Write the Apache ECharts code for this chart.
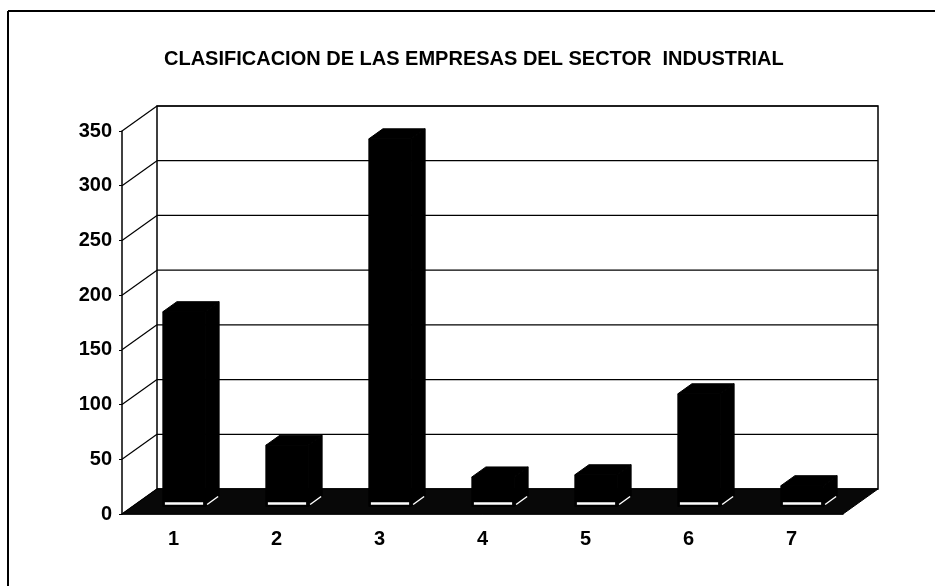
<!DOCTYPE html>
<html>
<head>
<meta charset="utf-8">
<title>Clasificacion de las empresas</title>
<script src="https://cdn.jsdelivr.net/npm/echarts@6/dist/echarts.min.js"></script>
<style>
  html, body { margin: 0; padding: 0; background: #fff; }
  #main { width: 935px; height: 586px; }
</style>
</head>
<body>
<div id="main"></div>
<script>
// datos
var categories = ['1', '2', '3', '4', '5', '6', '7']
var values = [178, 56, 336, 27, 29, 103, 19]
var yTicks = [0, 50, 100, 150, 200, 250, 300, 350]

// profundidad del efecto 3D (px)
var DX = 35
var DY = 25
var FONT = '"Liberation Sans", Arial, sans-serif'

var chart = echarts.init(document.getElementById('main'))

function wallItem (params, api) {
  var cs = params.coordSys
  var x0 = cs.x + DX
  var y0 = cs.y - DY
  return {
    type: 'rect',
    shape: { x: x0, y: y0, width: cs.width, height: cs.height },
    style: { fill: '#fff', stroke: '#000', lineWidth: 1.5 }
  }
}

function gridItem (params, api) {
  var cs = params.coordSys
  var py = api.coord([0, api.value(0)])[1]
  var x0 = cs.x
  return {
    type: 'group',
    children: [
      { type: 'line', shape: { x1: x0, y1: py, x2: x0 + DX, y2: py - DY }, style: { stroke: '#000', lineWidth: 1.2 } },
      { type: 'line', shape: { x1: x0 + DX, y1: py - DY, x2: x0 + DX + cs.width, y2: py - DY }, style: { stroke: '#000', lineWidth: 1.2 } }
    ]
  }
}

function floorItem (params, api) {
  var cs = params.coordSys
  var yb = cs.y + cs.height
  return {
    type: 'polygon',
    shape: { points: [[cs.x, yb], [cs.x + cs.width, yb], [cs.x + cs.width + DX, yb - DY], [cs.x + DX, yb - DY]] },
    style: { fill: '#080808', stroke: '#000', lineWidth: 1 }
  }
}

function barItem (params, api) {
  var i = api.value(0)
  var base = api.coord([i, 0])
  var top = api.coord([i, api.value(1)])
  var band = api.size([1, 0])[0]
  var w = band * 0.41
  var f0 = 0.3
  var f1 = 0.7
  var xl = base[0] + DX * f0 - w / 2
  var xr = xl + w
  var yb = base[1] - DY * f0
  var yt = top[1] - DY * f0
  var ox = DX * (f1 - f0)
  var oy = DY * (f1 - f0)
  var black = { fill: '#000', stroke: '#000', lineWidth: 1 }
  return {
    type: 'group',
    children: [
      { type: 'polygon', shape: { points: [[xl, yb], [xr, yb], [xr, yt], [xl, yt]] }, style: black },
      { type: 'polygon', shape: { points: [[xl, yt], [xr, yt], [xr + ox, yt - oy], [xl + ox, yt - oy]] }, style: black },
      { type: 'polygon', shape: { points: [[xr, yb], [xr + ox, yb - oy], [xr + ox, yt - oy], [xr, yt]] }, style: black },
      { type: 'line', shape: { x1: xl + 2, y1: yb - 3, x2: xr - 2, y2: yb - 3 }, style: { stroke: '#fff', lineWidth: 2.5 } },
      { type: 'line', shape: { x1: xr + 2, y1: yb - 2, x2: xr + ox - 1, y2: yb - oy }, style: { stroke: '#fff', lineWidth: 1.5 } }
    ]
  }
}

chart.setOption({
  animation: false,
  title: {
    text: 'CLASIFICACION DE LAS EMPRESAS DEL SECTOR  INDUSTRIAL',
    left: 159,
    top: 44,
    textStyle: { fontFamily: FONT, fontSize: 20, fontWeight: 'bold', color: '#000' }
  },
  graphic: [
    { type: 'line', shape: { x1: 8, y1: 11, x2: 935, y2: 11 }, style: { stroke: '#000', lineWidth: 2 } },
    { type: 'line', shape: { x1: 8, y1: 11, x2: 8, y2: 586 }, style: { stroke: '#000', lineWidth: 2 } }
  ],
  grid: { left: 122, right: 92, top: 131, bottom: 72 },
  xAxis: {
    type: 'category',
    data: categories,
    axisLine: { lineStyle: { color: '#000', width: 1.5 } },
    axisTick: { length: 3, lineStyle: { color: '#000' } },
    axisLabel: { margin: 15, color: '#000', fontFamily: FONT, fontSize: 20, fontWeight: 'bold' }
  },
  yAxis: {
    type: 'value',
    min: 0,
    max: 350,
    interval: 50,
    splitLine: { show: false },
    axisLine: { show: true, lineStyle: { color: '#000', width: 1.5 } },
    axisTick: { show: true, length: 3, lineStyle: { color: '#000' } },
    axisLabel: { margin: 10, color: '#000', fontFamily: FONT, fontSize: 20, fontWeight: 'bold' }
  },
  series: [
    { type: 'custom', z: 1, clip: false, silent: true, renderItem: wallItem, data: [[0, 0]] },
    { type: 'custom', z: 2, clip: false, silent: true, renderItem: gridItem, data: yTicks.map(function (v) { return [v] }), encode: { y: 0 } },
    { type: 'custom', z: 3, clip: false, silent: true, renderItem: floorItem, data: [[0, 0]] },
    { type: 'custom', z: 4, clip: false, renderItem: barItem, data: values.map(function (v, i) { return [i, v] }) }
  ]
})
</script>
</body>
</html>
